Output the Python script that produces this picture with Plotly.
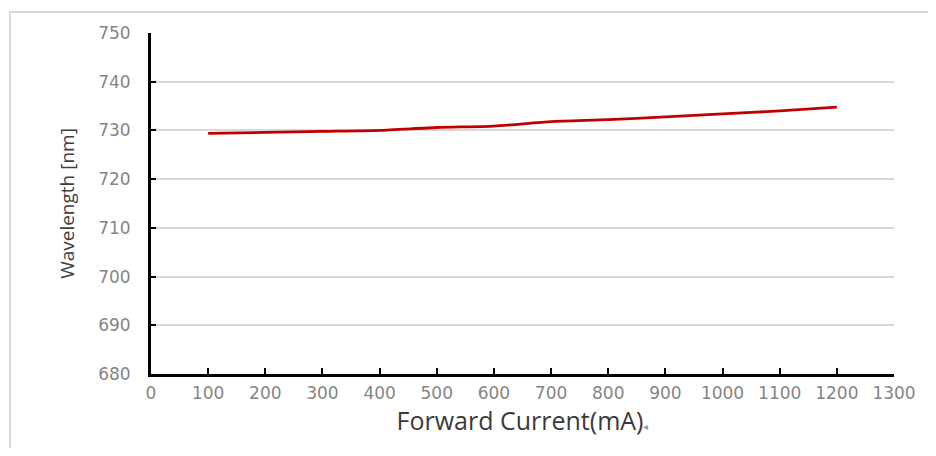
import plotly.graph_objects as go

current_ma = [100, 200, 300, 400, 500, 600, 700, 800, 900, 1000, 1100, 1200]
wavelength_nm = [729.4, 729.6, 729.8, 730.0, 730.6, 730.9, 731.8, 732.2, 732.8, 733.4, 734.0, 734.8]
x_ticks = list(range(0, 1301, 100))
y_ticks = list(range(680, 751, 10))

W, H = 920, 440
L, R, T, B = 143, 34, 25, 74
PW, PH = W - L - R, H - T - B

fig = go.Figure()
fig.add_trace(go.Scatter(
    x=current_ma, y=wavelength_nm, mode="lines",
    line=dict(color="#C00000", width=2.8, shape="spline", smoothing=0.6),
    showlegend=False, hoverinfo="skip"))

fig.update_layout(
    width=W, height=H,
    margin=dict(l=L, r=R, t=T, b=B),
    paper_bgcolor="white", plot_bgcolor="white",
    font=dict(family="DejaVu Sans", color="#7F7F7F"),
    xaxis=dict(
        range=[0, 1300], tickvals=x_ticks, ticktext=[str(v) for v in x_ticks],
        showgrid=False, zeroline=False,
        showline=True, linecolor="black", linewidth=3,
        ticks="inside", ticklen=6, tickwidth=2, tickcolor="black",
        tickfont=dict(family="DejaVu Sans", size=17, color="#858585"),
        ticklabelstandoff=2,
        title=dict(text="Forward Current(mA)<span style='font-size:10px;color:#999999'>◂</span>",
                   font=dict(family="Open Sans", size=25, color="#3A3A3A"),
                   standoff=8),
    ),
    yaxis=dict(
        range=[680, 750], tickvals=y_ticks,
        showgrid=True, gridcolor="#D9D9D9", gridwidth=1.5, zeroline=False,
        showline=True, linecolor="black", linewidth=3,
        ticks="inside", ticklen=5, tickwidth=2, tickcolor="black",
        tickfont=dict(family="DejaVu Sans", size=17, color="#858585"),
        ticklabelstandoff=14,
        title=dict(text="Wavelength [nm]",
                   font=dict(family="Open Sans", size=19, color="#404040"),
                   standoff=19),
    ),
)

fig.add_shape(type="rect", xref="paper", yref="paper",
              x0=(2 - L) / PW, x1=1.2, y0=-0.5, y1=1 + (T - 4) / PH,
              line=dict(color="#D9D9D9", width=2), fillcolor="rgba(0,0,0,0)", layer="below")

fig.write_html("out.html")
